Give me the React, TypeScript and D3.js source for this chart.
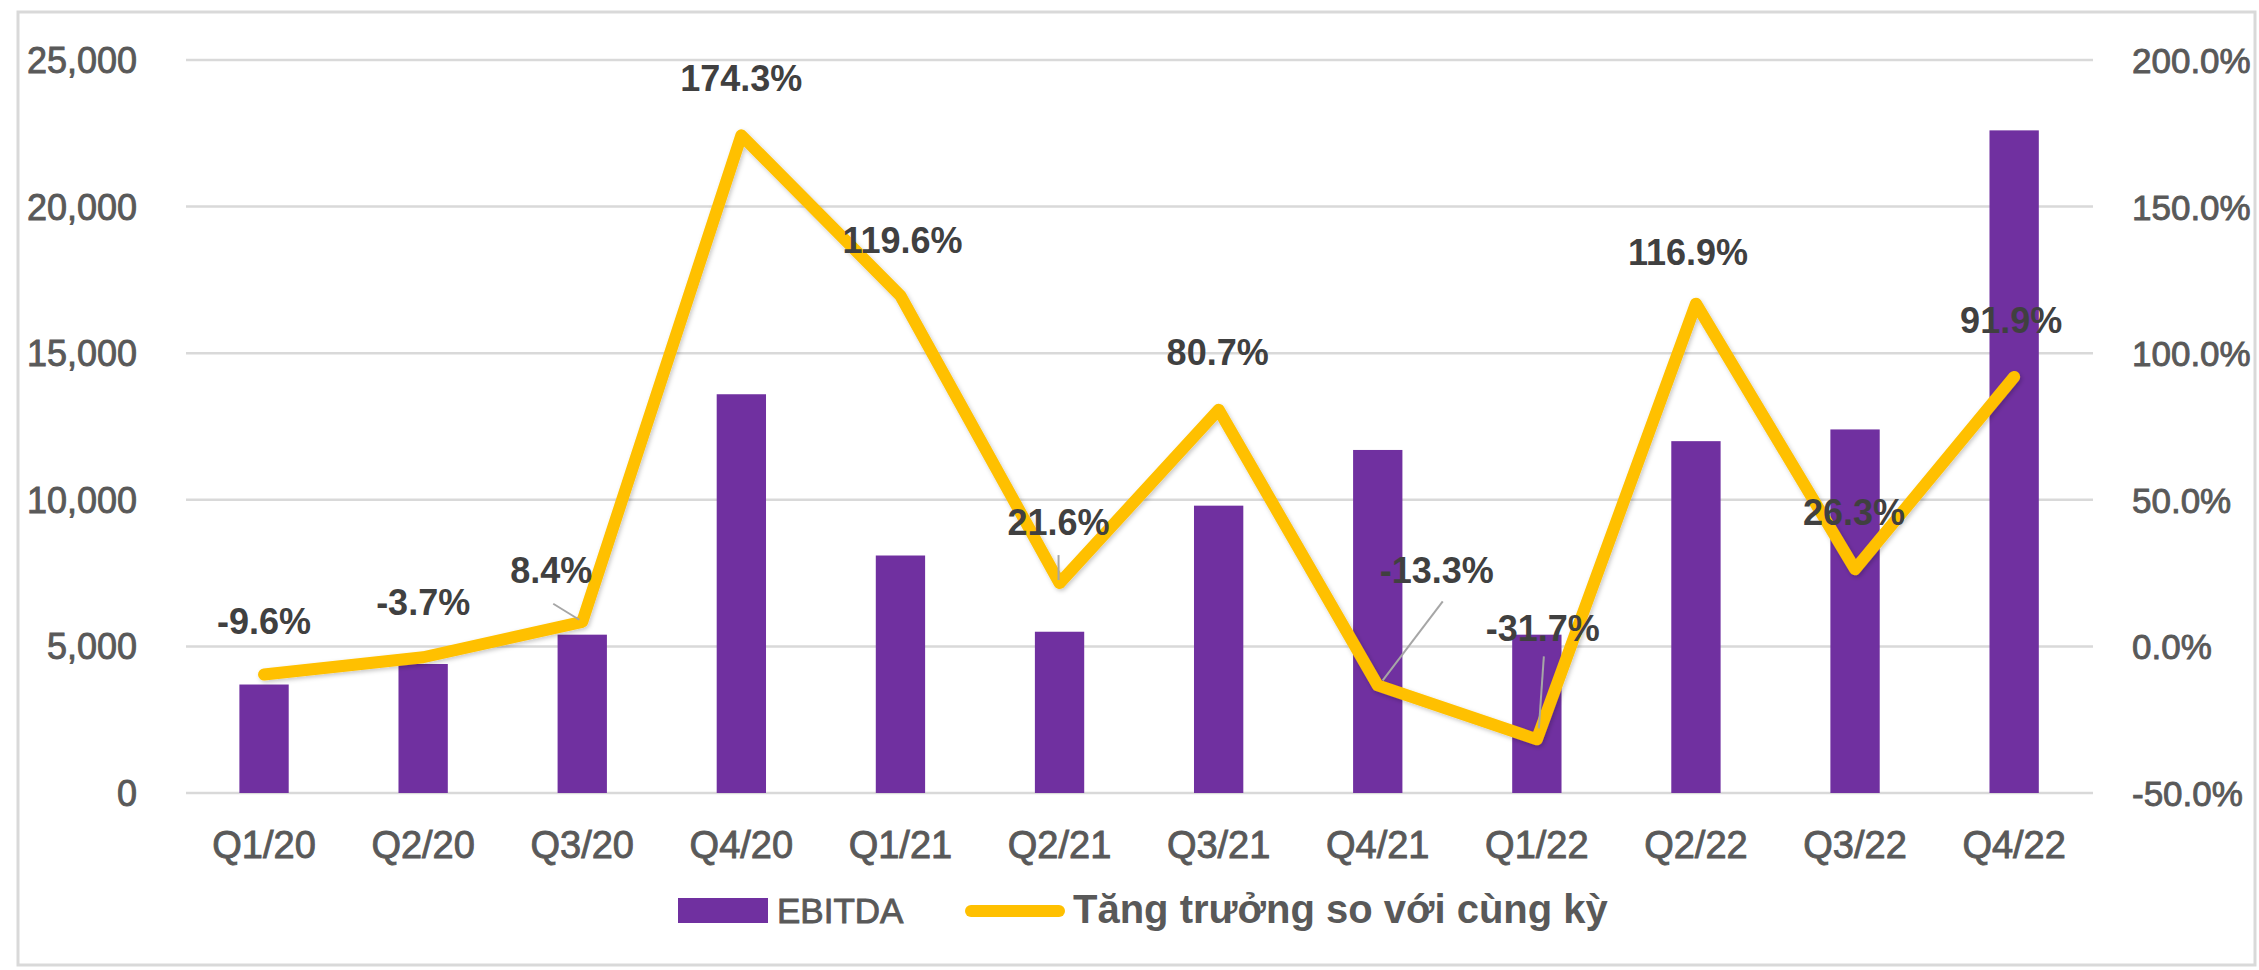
import React from "react";
import * as d3 from "d3";

const categories = ["Q1/20", "Q2/20", "Q3/20", "Q4/20", "Q1/21", "Q2/21", "Q3/21", "Q4/21", "Q1/22", "Q2/22", "Q3/22", "Q4/22"];
const ebitda = [3700, 4400, 5400, 13600, 8100, 5500, 9800, 11700, 5400, 12000, 12400, 22600];
const growth = [-9.6, -3.7, 8.4, 174.3, 119.6, 21.6, 80.7, -13.3, -31.7, 116.9, 26.3, 91.9];
const leftTicks = [0, 5000, 10000, 15000, 20000, 25000];
const rightTicks = [-50, 0, 50, 100, 150, 200];
const seriesNames = ["EBITDA", "Tăng trưởng so với cùng kỳ"];

// label placement (layout, relative to data point)
const labelDx = [0, 0, -31, 0, 2, -1, -1, 59, 6, -8, -1, -3];
const labelDy = [-53, -54, -51, -56, -55, -60, -57, -114, -110, -51, -56, -56];
const leaders: { i: number; from: [number, number]; to: [number, number] }[] = [
  { i: 2, from: [-29, -18], to: [-3, -2] },
  { i: 5, from: [-1, -28], to: [-1, -3] },
  { i: 7, from: [65, -84], to: [5, -5] },
  { i: 8, from: [7, -83], to: [2, -11] },
];

const W = 2259;
const H = 970;
const TOP = 60;
const BOTTOM = 793;
const BAR = "#7030A0";
const GOLD = "#FFC000";
const TICK = "#595959";
const FONT = "'Liberation Sans', Arial, sans-serif";

export default function App() {
  const x = d3
    .scaleBand<string>()
    .domain(categories)
    .range([184.5, 2093.7])
    .paddingInner(0.69)
    .paddingOuter(0.345);
  const yL = d3.scaleLinear().domain([0, 25000]).range([BOTTOM, TOP]);
  const yR = d3.scaleLinear().domain([-50, 200]).range([BOTTOM, TOP]);
  const cx = (c: string) => (x(c) as number) + x.bandwidth() / 2;

  const line = d3
    .line<number>()
    .x((_, i) => cx(categories[i]))
    .y((d) => yR(d));

  const fmtL = d3.format(",");
  const fmtR = (v: number) => v.toFixed(1) + "%";
  const heavy = { stroke: TICK, strokeWidth: 0.9 };

  return (
    <svg
      width={W}
      height={H}
      style={{ position: "absolute", left: 0, top: 0, background: "#fff" }}
      fontFamily={FONT}
    >
      <defs>
        <filter id="sh" x="-10%" y="-10%" width="120%" height="120%">
          <feDropShadow dx="1.5" dy="2" stdDeviation="2" floodColor="#000" floodOpacity="0.22" />
        </filter>
      </defs>
      <rect x={0} y={0} width={W} height={H} fill="#fff" />
      <rect x={18} y={12} width={2237} height={953} fill="none" stroke="#D9D9D9" strokeWidth={3} />

      {/* gridlines */}
      {leftTicks.map((t) => (
        <line key={"g" + t} x1={186} x2={2093} y1={yL(t)} y2={yL(t)} stroke="#D9D9D9" strokeWidth={2.5} />
      ))}

      {/* left ticks */}
      {leftTicks.map((t) => (
        <text key={"l" + t} x={137} y={yL(t) + 13} textAnchor="end" fontSize={36} fill={TICK} {...heavy}>
          {fmtL(t)}
        </text>
      ))}
      {/* right ticks */}
      {rightTicks.map((t) => (
        <text key={"r" + t} x={2132} y={yR(t) + 13} textAnchor="start" fontSize={35} fill={TICK} {...heavy}>
          {fmtR(t)}
        </text>
      ))}

      {/* bars */}
      {ebitda.map((v, i) => (
        <rect
          key={"b" + i}
          x={x(categories[i])}
          y={yL(v)}
          width={x.bandwidth()}
          height={yL(0) - yL(v)}
          fill={BAR}
        />
      ))}

      {/* x labels */}
      {categories.map((c) => (
        <text key={"x" + c} x={cx(c)} y={858} textAnchor="middle" fontSize={38} fill={TICK} {...heavy}>
          {c}
        </text>
      ))}

      {/* growth line */}
      <path
        d={line(growth) || ""}
        fill="none"
        stroke={GOLD}
        strokeWidth={12}
        strokeLinejoin="round"
        strokeLinecap="round"
        filter="url(#sh)"
      />

      {/* leader lines */}
      {leaders.map((l) => {
        const px = cx(categories[l.i]);
        const py = yR(growth[l.i]);
        return (
          <line
            key={"ld" + l.i}
            x1={px + l.from[0]}
            y1={py + l.from[1]}
            x2={px + l.to[0]}
            y2={py + l.to[1]}
            stroke="#A6A6A6"
            strokeWidth={2}
          />
        );
      })}

      {/* data labels */}
      {growth.map((v, i) => (
        <text
          key={"dl" + i}
          x={cx(categories[i]) + labelDx[i]}
          y={yR(v) + labelDy[i] + 12}
          textAnchor="middle"
          fontSize={36}
          fontWeight="bold"
          fill="#404040"
        >
          {fmtR(v)}
        </text>
      ))}

      {/* legend */}
      <rect x={678} y={898} width={90} height={25} fill={BAR} />
      <text x={777} y={923} fontSize={35} fill={TICK} {...heavy}>
        {seriesNames[0]}
      </text>
      <line x1={971} x2={1059} y1={911} y2={911} stroke={GOLD} strokeWidth={12} strokeLinecap="round" />
      <text x={1073} y={923} fontSize={40} fontWeight="bold" fill={TICK}>
        {seriesNames[1]}
      </text>
    </svg>
  );
}
